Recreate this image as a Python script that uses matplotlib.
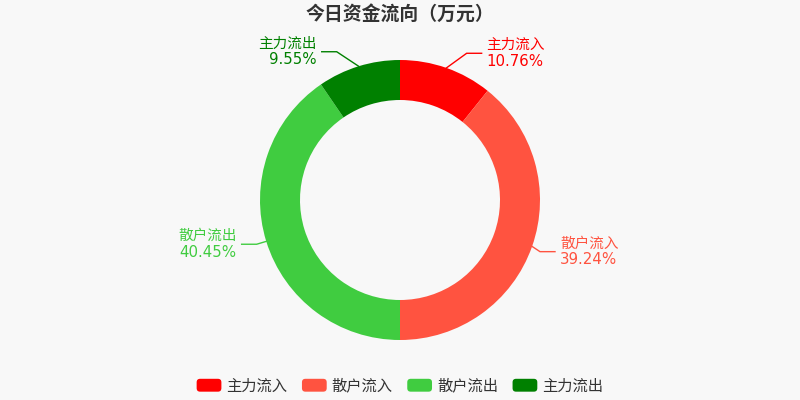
import matplotlib
matplotlib.use("Agg")
import matplotlib.pyplot as plt
from matplotlib.patches import FancyBboxPatch, Patch
from matplotlib.legend_handler import HandlerPatch
import numpy as np

plt.rcParams['font.family'] = ['Noto Sans CJK SC', 'DejaVu Sans']

# ---- data ----
title = "今日资金流向（万元）"
categories = ['主力流入', '散户流入', '散户流出', '主力流出']
values = [10.76, 39.24, 40.45, 9.55]
colors = ['#ff0000', '#ff5340', '#40cc40', '#008000']

# ---- layout ----
W, H, DPI = 800, 400, 100
BG = '#f8f8f8'
cx, cy, R, ring = 400, 200, 140, 40          # pixel geometry of donut
# elbow point of each leader line (data units, radius = 1)
elbows = [(0.476, 1.048), (1.0, -0.369), (-1.024, -0.316), (-0.452, 1.059)]
seg2 = 15 / R
gap = 5 / R
dy = 8 / R

fig = plt.figure(figsize=(W / DPI, H / DPI), dpi=DPI, facecolor=BG)
ax = fig.add_axes([(cx - R) / W, (H - cy - R) / H, 2 * R / W, 2 * R / H])
ax.set_facecolor(BG)
ax.axis('off')

wedges, _ = ax.pie(values, colors=colors, startangle=90, counterclock=False,
                   radius=1, wedgeprops=dict(width=ring / R, edgecolor='none', linewidth=0))
ax.set_xlim(-1, 1)
ax.set_ylim(-1, 1)
ax.set_aspect('equal')

for w, cat, val, col, (ex, ey) in zip(wedges, categories, values, colors, elbows):
    ang = np.deg2rad((w.theta1 + w.theta2) / 2)
    px, py = np.cos(ang), np.sin(ang)
    side = 1 if ex > 0 else -1
    hx = ex + side * seg2
    ax.plot([px, ex, hx], [py, ey, ey], color=col, lw=1, clip_on=False,
            solid_joinstyle='miter')
    tx = hx + side * gap
    ha = 'left' if side > 0 else 'right'
    ax.text(tx, ey + dy, cat, color=col, fontsize=10.5, ha=ha, va='center',
            clip_on=False, family=['Noto Sans CJK SC', 'DejaVu Sans'])
    ax.text(tx, ey - dy, f"{val:.2f}%", color=col, fontsize=10.8, ha=ha, va='center',
            clip_on=False, family=['DejaVu Sans'])

fig.text(0.5, 1 - 14 / H, title, ha='center', va='center', fontsize=13.6,
         fontweight='bold', color='#333333')


def rounded(legend, orig_handle, xdescent, ydescent, width, height, fontsize):
    return FancyBboxPatch((-xdescent, -ydescent), width, height,
                          boxstyle="round,pad=0,rounding_size=2.5")


handles = [Patch(facecolor=c, edgecolor='none') for c in colors]
leg = fig.legend(handles, categories, loc='center', bbox_to_anchor=(0.5, 14 / H),
                 ncol=4, frameon=False, fontsize=11, handlelength=1.62,
                 handleheight=0.92, handletextpad=0.33, columnspacing=0.95,
                 borderpad=0, handler_map={Patch: HandlerPatch(patch_func=rounded)})
for t in leg.get_texts():
    t.set_color('#333333')

fig.savefig('out.png', dpi=DPI, facecolor=BG)
